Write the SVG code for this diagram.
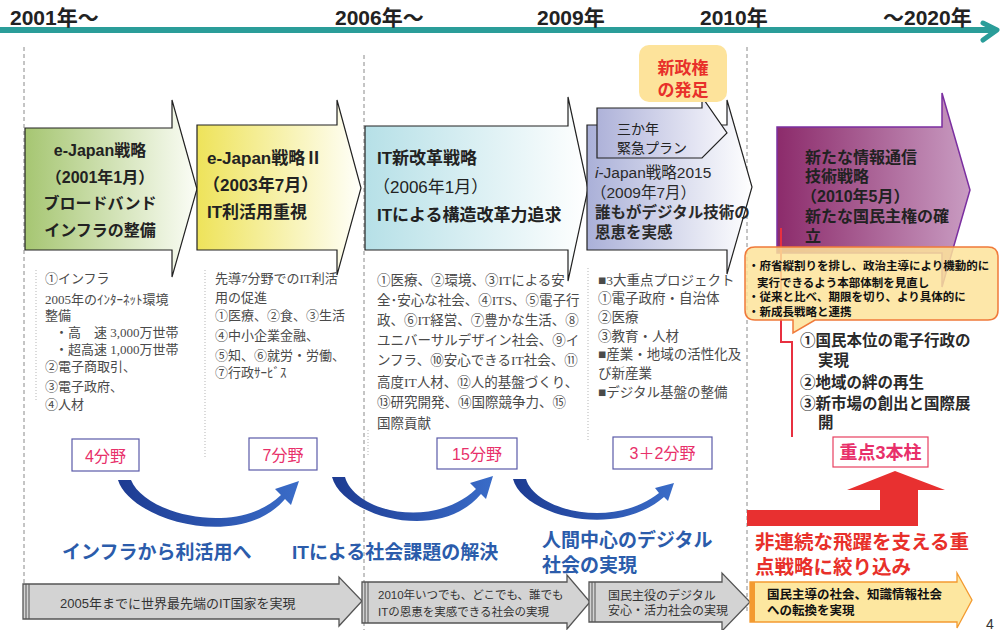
<svg xmlns="http://www.w3.org/2000/svg" width="1000" height="630" viewBox="0 0 1000 630">
<defs>
<style>
text{font-family:'Liberation Sans','Noto Sans CJK JP',sans-serif;fill:#222}
.yr{font-size:21px;font-weight:bold;fill:#222}
.b16{font-size:16px;font-weight:bold}
.b17{font-size:17px;font-weight:bold}
.m{font-size:15.5px;font-weight:bold;fill:#2a2a2a}
.n{font-weight:normal}
.col{font-family:'Liberation Serif','Noto Sans CJK JP',serif;font-size:13px;fill:#4a4a4a}
.col2{font-family:'Liberation Serif','Noto Sans CJK JP',serif;font-size:13.5px;fill:#4a4a4a}
.cnt{font-size:16px;fill:#e8306a;text-anchor:middle}
.blue{font-size:19px;font-weight:bold;fill:#2b5cab}
.red{font-size:19.5px;font-weight:bold;fill:#e8302a}
.gt{font-size:12px;fill:#333}
.co{font-size:11.5px;font-weight:bold;fill:#111}
.dash{stroke:#8a8a8a;stroke-width:1;stroke-dasharray:4 3;fill:none}
.dot{stroke:#b5b5b5;stroke-width:1;stroke-dasharray:1 2;fill:none}
.box{stroke:#222;stroke-width:1.2}
.cbox{fill:#fff;stroke:#5a5aa8;stroke-width:1.2}
.garr{fill:#d3d3d3;stroke:#555;stroke-width:1.3}
.stripe{stroke:#555;stroke-width:1}
</style>
<linearGradient id="g1" x1="0" x2="1" y1="0" y2="0"><stop offset="0" stop-color="#a6c672"/><stop offset="1" stop-color="#fbfdf6"/></linearGradient>
<linearGradient id="g2" x1="0" x2="1" y1="0" y2="0"><stop offset="0" stop-color="#eee35a"/><stop offset="1" stop-color="#fffffa"/></linearGradient>
<linearGradient id="g3" x1="0" x2="1" y1="0" y2="0"><stop offset="0" stop-color="#b6e0e7"/><stop offset="1" stop-color="#ffffff"/></linearGradient>
<linearGradient id="g4" x1="0" x2="1" y1="0" y2="0"><stop offset="0" stop-color="#aab0d8"/><stop offset="1" stop-color="#ffffff"/></linearGradient>
<linearGradient id="g5" x1="0" x2="1" y1="0" y2="0"><stop offset="0" stop-color="#aeb2d9"/><stop offset="1" stop-color="#f5f5fb"/></linearGradient>
<linearGradient id="g6" x1="0" x2="1" y1="0" y2="0"><stop offset="0" stop-color="#8c2b6b"/><stop offset="1" stop-color="#c99cc2"/></linearGradient>
<linearGradient id="gb" x1="0" x2="1" y1="0" y2="0"><stop offset="0" stop-color="#1d3b92"/><stop offset="1" stop-color="#3a6cc8"/></linearGradient>
</defs>
<rect width="1000" height="630" fill="#fff"/>

<!-- timeline -->
<g id="timeline">
<rect x="0" y="27" width="995" height="6" fill="#2a9d99"/>
<polyline points="983,23 997,30 983,40" fill="none" stroke="#2a9d99" stroke-width="5" stroke-linejoin="round" stroke-linecap="round"/>
<text class="yr" x="10" y="25">2001年〜</text>
<text class="yr" x="335" y="25">2006年〜</text>
<text class="yr" x="537" y="25">2009年</text>
<text class="yr" x="700" y="25">2010年</text>
<text class="yr" x="883" y="25">〜2020年</text>
</g>

<!-- guides -->
<g id="guides">
<line class="dash" x1="24" y1="47" x2="24" y2="618"/>
<line class="dash" x1="364" y1="55" x2="364" y2="630"/>
<line class="dash" x1="747" y1="47" x2="747" y2="612"/>
<line class="dot" x1="36" y1="270" x2="36" y2="402"/>
<line class="dot" x1="205" y1="270" x2="205" y2="457"/>
<line class="dot" x1="588" y1="268" x2="588" y2="440"/>
<line class="dot" x1="368" y1="430" x2="368" y2="455"/>
</g>

<!-- strategy arrows -->
<g id="ejapan1">
<path class="box" fill="url(#g1)" d="M25,128 H172 V100 L197,189 L172,277 V250 H25 Z"/>
<text class="b16" text-anchor="middle" x="100" y="156">e-Japan戦略</text>
<text class="b16" text-anchor="middle" x="100" y="183">（2001年1月）</text>
<text class="b16" text-anchor="middle" x="100" y="209">ブロードバンド</text>
<text class="b16" text-anchor="middle" x="100" y="236">インフラの整備</text>
</g>
<g id="ejapan2">
<path class="box" fill="url(#g2)" d="M197,125 H337 V100 L361,188 L337,275 V250 H197 Z"/>
<text class="b17" x="207" y="164">e-Japan戦略Ⅱ</text>
<text class="b17" x="203" y="191">（2003年7月）</text>
<text class="b17" x="207" y="218">IT利活用重視</text>
</g>
<g id="itkaikaku">
<path class="box" fill="url(#g3)" d="M365,126 H568 V97 L588,189 L568,281 V250 H365 Z"/>
<text class="b17" x="377" y="164">IT新改革戦略</text>
<text class="b17 n" x="373" y="193">（2006年1月）</text>
<text class="b17" x="377" y="221">ITによる構造改革力追求</text>
</g>
<g id="ijapan">
<path class="box" fill="url(#g4)" d="M587,125 H727 V100 L752,187 L727,274 V250 H587 Z"/>
<text class="m n" x="595" y="178" font-size="16"><tspan font-style="italic">i</tspan>-Japan戦略2015</text>
<text class="m n" x="591" y="198">（2009年7月）</text>
<text class="m" x="595" y="218">誰もがデジタル技術の</text>
<text class="m" x="595" y="238">恩恵を実感</text>
</g>
<g id="sankanen">
<path class="box" fill="url(#g5)" d="M597,108 H702 V97 L727,133 L702,158 H597 Z"/>
<text x="617" y="134" font-size="14">三か年</text>
<text x="617" y="153" font-size="14">緊急プラン</text>
</g>
<g id="shinseiken">
<rect x="639" y="45" width="88" height="57" rx="10" fill="#fde39b"/>
<text x="683" y="74" font-size="17" font-weight="bold" text-anchor="middle" style="fill:#e8302a">新政権</text>
<text x="683" y="96" font-size="17" font-weight="bold" text-anchor="middle" style="fill:#e8302a">の発足</text>
</g>
<g id="aratana">
<path fill="url(#g6)" stroke="#7b2fa0" stroke-width="1.5" d="M777,127 H942 V93 L970,190 L942,287 V253 H777 Z"/>
<text class="b16" x="805" y="163">新たな情報通信</text>
<text class="b16" x="805" y="182">技術戦略</text>
<text class="b16" x="801" y="202">（2010年5月）</text>
<text class="b16" x="805" y="222">新たな国民主権の確</text>
<text class="b16" x="805" y="242">立</text>
</g>
<g id="redbracket">
<path d="M781,228 V342 H792 V437" fill="none" stroke="#e83040" stroke-width="2"/>
</g>
<g id="callout">
<path d="M755,247 H988 Q998,247 998,257 V310 Q998,320 988,320 H815 L793,333 V320 H755 Q745,320 745,310 V257 Q745,247 755,247 Z" fill="#fde39a" fill-opacity="0.85" stroke="#f07a3a" stroke-width="1.5"/>
<text class="co" x="748" y="269.5">・府省縦割りを排し、政治主導により機動的に</text>
<text class="co" x="757" y="286.5">実行できるよう本部体制を見直し</text>
<text class="co" x="748" y="301">・従来と比べ、期限を切り、より具体的に</text>
<text class="co" x="748" y="315.5">・新成長戦略と連携</text>
</g>
<g id="pillars">
<text class="m" x="800" y="346">①国民本位の電子行政の</text>
<text class="m" x="818" y="366">実現</text>
<text class="m" x="800" y="388">②地域の絆の再生</text>
<text class="m" x="800" y="409">③新市場の創出と国際展</text>
<text class="m" x="818" y="428">開</text>
</g>

<!-- detail columns -->
<g id="col1">
<text class="col" x="45" y="283">①インフラ</text>
<text class="col" x="45" y="304">2005年のｲﾝﾀｰﾈｯﾄ環境</text>
<text class="col" x="45" y="320">整備</text>
<text class="col" x="55" y="337">・高　速 3,000万世帯</text>
<text class="col" x="55" y="354">・超高速 1,000万世帯</text>
<text class="col" x="45" y="371">②電子商取引、</text>
<text class="col" x="45" y="391">③電子政府、</text>
<text class="col" x="45" y="409">④人材</text>
</g>
<g id="col2">
<text class="col" x="215" y="283">先導7分野でのIT利活</text>
<text class="col" x="215" y="302">用の促進</text>
<text class="col" x="215" y="320">①医療、②食、③生活</text>
<text class="col" x="215" y="340">④中小企業金融、</text>
<text class="col" x="215" y="360">⑤知、⑥就労・労働、</text>
<text class="col" x="215" y="377">⑦行政ｻｰﾋﾞｽ</text>
</g>
<g id="col3">
<text class="col2" x="377" y="285">①医療、②環境、③ITによる安</text>
<text class="col2" x="377" y="305">全･安心な社会、④ITS、⑤電子行</text>
<text class="col2" x="377" y="325">政、⑥IT経営、⑦豊かな生活、⑧</text>
<text class="col2" x="377" y="345">ユニバーサルデザイン社会、⑨イ</text>
<text class="col2" x="377" y="365">ンフラ、⑩安心できるIT社会、⑪</text>
<text class="col2" x="377" y="387">高度IT人材、⑫人的基盤づくり、</text>
<text class="col2" x="377" y="407">⑬研究開発、⑭国際競争力、⑮</text>
<text class="col2" x="377" y="428">国際貢献</text>
</g>
<g id="col4">
<text class="col2" x="598" y="285">■3大重点プロジェクト</text>
<text class="col2" x="598" y="303">①電子政府・自治体</text>
<text class="col2" x="598" y="322">②医療</text>
<text class="col2" x="598" y="341">③教育・人材</text>
<text class="col2" x="598" y="359">■産業・地域の活性化及</text>
<text class="col2" x="598" y="378">び新産業</text>
<text class="col2" x="598" y="397">■デジタル基盤の整備</text>
</g>

<!-- counts -->
<g id="cnt4"><rect class="cbox" x="72" y="439" width="67" height="32"/><text class="cnt" x="105.5" y="462">4分野</text></g>
<g id="cnt7"><rect class="cbox" x="249" y="438" width="68" height="32"/><text class="cnt" x="283" y="461">7分野</text></g>
<g id="cnt15"><rect class="cbox" x="437" y="438" width="80" height="31"/><text class="cnt" x="477" y="460">15分野</text></g>
<g id="cnt32"><rect class="cbox" x="613" y="437" width="99" height="32"/><text class="cnt" x="662.5" y="459">3＋2分野</text></g>
<g id="pillar3"><rect x="833" y="437" width="95" height="30" fill="#fff" stroke="#e84060" stroke-width="1.2"/><text x="880.5" y="459" text-anchor="middle" font-size="18" font-weight="bold" style="fill:#e8306a">重点3本柱</text></g>

<!-- connectors -->
<g id="connectors">
<path fill="url(#gb)" d="M118,480 C130,520 240,552 285,499 L291,505 L299,481 L275,489 L281,495 C238,537 145,515 131,480 Z"/>
<path fill="url(#gb)" d="M332,477 C342,515 438,545 481,494 L486,499 L493,476 L470,483 L476,489 C433,530 355,512 345,477 Z"/>
<path fill="url(#gb)" d="M513,479 C522,515 615,540 664,497 L668,501 L674,483 L655,488 L659,493 C612,530 535,510 526,479 Z"/>
<path fill="#e83030" d="M747,510 H880 V490 H847 L895,471 L945,490 H918 V526 H747 Z"/>
</g>

<!-- phase captions -->
<g id="captions">
<text class="blue" x="62" y="559">インフラから利活用へ</text>
<text class="blue" x="292" y="559">ITによる社会課題の解決</text>
<text class="blue" x="542" y="547">人間中心のデジタル</text>
<text class="blue" x="542" y="572">社会の実現</text>
<text class="red" x="755" y="549">非連続な飛躍を支える重</text>
<text class="red" x="755" y="574">点戦略に絞り込み</text>
</g>

<!-- goal arrows -->
<g id="goalA">
<path class="garr" d="M23,584 H339 V577 L362,601 L339,626 V619 H23 Z"/>
<line class="stripe" x1="26" y1="584" x2="26" y2="619"/><line class="stripe" x1="29" y1="584" x2="29" y2="619"/>
<text x="60" y="608" font-size="13" style="fill:#333">2005年までに世界最先端のIT国家を実現</text>
</g>
<g id="goalB">
<path class="garr" d="M362,582 H567 V575 L590,602 L567,629 V623 H362 Z"/>
<line class="stripe" x1="365" y1="582" x2="365" y2="623"/><line class="stripe" x1="368" y1="582" x2="368" y2="623"/>
<text class="gt" x="378" y="599" style="font-size:11.5px">2010年いつでも、どこでも、誰でも</text>
<text class="gt" x="378" y="616" style="font-size:11.5px">ITの恩恵を実感できる社会の実現</text>
</g>
<g id="goalC">
<path class="garr" d="M589,582 H722 V573 L750,602 L722,631 V622 H589 Z"/>
<line class="stripe" x1="592" y1="582" x2="592" y2="622"/><line class="stripe" x1="595" y1="582" x2="595" y2="622"/>
<text class="gt" x="608" y="599.5">国民主役のデジタル</text>
<text class="gt" x="608" y="614.5">安心・活力社会の実現</text>
</g>
<g id="goalD">
<path d="M750,582 H957 V573 L972,600 L957,628 V622 H750 Z" fill="#fde7a0" stroke="#f39a30" stroke-width="1.3"/>
<rect x="750" y="582" width="5" height="40" fill="#f39a30"/>
<text x="767" y="598.5" font-size="12.5" font-weight="bold" style="fill:#111">国民主導の社会、知識情報社会</text>
<text x="767" y="614.5" font-size="12.5" font-weight="bold" style="fill:#111">への転換を実現</text>
</g>
<text x="986" y="629" font-size="14" style="fill:#333">4</text>
</svg>
